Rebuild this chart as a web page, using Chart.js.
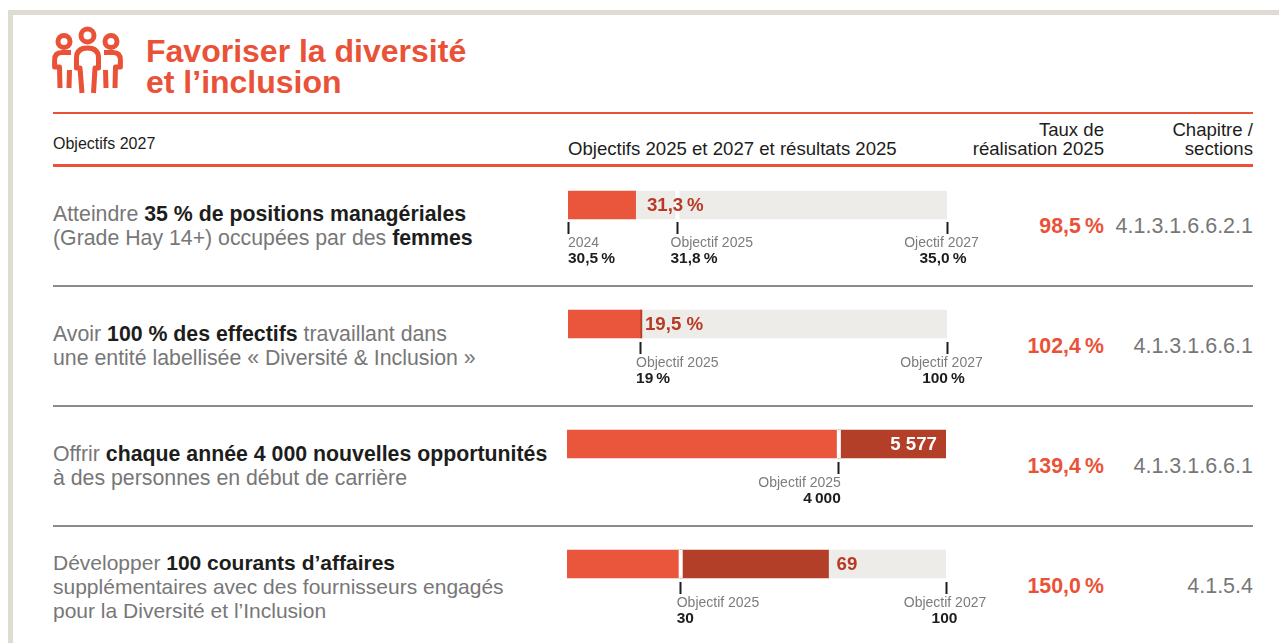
<!DOCTYPE html>
<html lang="fr">
<head>
<meta charset="utf-8">
<title>Favoriser la diversité et l'inclusion</title>
<script src="https://cdn.jsdelivr.net/npm/chart.js@4"></script>
<style>
  html, body { margin: 0; padding: 0; background: #fff; overflow: hidden; }
  body { width: 1279px; height: 643px; position: relative; font-family: "Liberation Sans", Arial, sans-serif; }
  .abs { position: absolute; white-space: nowrap; }
  .frame-top { left: 8px; top: 10px; width: 1271px; height: 5px; background: #dedbd3; }
  .frame-left { left: 8px; top: 10px; width: 5px; height: 633px; background: #dedbd3; }
  .rule { left: 53px; width: 1200px; }
  .rule.red { background: #ea5238; }
  .rule.grey { height: 2px; background: #8c8c8c; }
  .title { left: 146px; top: 36px; font-size: 32px; line-height: 31px; font-weight: bold; color: #ea5238; }
  .head { color: #1d1d1b; font-size: 18.6px; line-height: 19px; }
  .right { text-align: right; }
  .desc { left: 53px; font-size: 21.3px; line-height: 24px; color: #777; }
  .desc b { color: #1d1d1b; }
  .rate { font-size: 21.3px; font-weight: bold; color: #ea5238; text-align: right; right: 175px; line-height: 24px; }
  .chap { font-size: 21.5px; color: #777; text-align: right; right: 26px; line-height: 24px; }
  canvas { position: absolute; left: 548px; }
</style>
</head>
<body>
<div class="abs frame-top"></div>
<div class="abs frame-left"></div>

<svg class="abs" style="left:45px;top:20px" width="85" height="80" viewBox="45 20 85 80" fill="none" stroke="#ea5238" stroke-width="5" stroke-linejoin="round">
  <circle cx="87.5" cy="35.5" r="6.5"/>
  <path d="M82 93 L80 68 H76.5 V58 Q76.5 48 87.5 48 Q98.5 48 98.5 58 V68 H95 L93.5 93"/>
  <circle cx="64" cy="41.5" r="6"/>
  <path d="M71 52.5 H62 Q54.6 52.5 54.6 60 V67 H59.5 L60 88"/>
  <path d="M69.5 70 L69 88"/>
  <circle cx="111" cy="41.5" r="6"/>
  <path d="M104 52.5 H113 Q120.4 52.5 120.4 60 V67 H115.5 L115 88"/>
  <path d="M105.5 70 L106 88"/>
</svg>
<div class="abs title">Favoriser la diversité<br>et l’inclusion</div>

<div class="abs rule red" style="top:112px;height:2px"></div>
<div class="abs rule red" style="top:164px;height:3px"></div>
<div class="abs rule grey" style="top:285px"></div>
<div class="abs rule grey" style="top:405px"></div>
<div class="abs rule grey" style="top:525px"></div>

<div class="abs head" style="left:53px;top:134px;font-size:16px">Objectifs 2027</div>
<div class="abs head" style="left:568px;top:139px">Objectifs 2025 et 2027 et résultats 2025</div>
<div class="abs head right" style="right:175px;top:120px">Taux de<br>réalisation 2025</div>
<div class="abs head right" style="right:26px;top:120px">Chapitre /<br>sections</div>

<div class="abs desc" style="top:202px">Atteindre <b>35 % de positions managériales</b><br>(Grade Hay 14+) occupées par des <b>femmes</b></div>
<div class="abs desc" style="top:322px">Avoir <b>100 % des effectifs</b> travaillant dans<br>une entité labellisée « Diversité &amp; Inclusion »</div>
<div class="abs desc" style="top:442px">Offrir <b>chaque année 4 000 nouvelles opportunités</b><br>à des personnes en début de carrière</div>
<div class="abs desc" style="top:551px;font-size:21px">Développer <b>100 courants d’affaires</b><br>supplémentaires avec des fournisseurs engagés<br>pour la Diversité et l’Inclusion</div>

<div id="rates"></div>
<canvas id="row-0" width="450" height="95"></canvas>
<canvas id="row-1" width="450" height="95"></canvas>
<canvas id="row-2" width="450" height="95"></canvas>
<canvas id="row-3" width="450" height="95"></canvas>

<script>
// Chart data, one entry per row
const categories = ['Positions managériales', 'Entités labellisées', 'Opportunités', 'Courants d’affaires'];
const axisMin = [30.5, 0, 0, 0];
const axisMax = [35, 100, 5577, 100];
const baseValues = [31.3, 19, 4000, 30];     // light orange part of the bar
const excessValues = [0, 0.5, 1577, 39];     // dark part, above the 2025 objective
const trackValues = [3.7, 80.5, 0, 31];      // what is left up to the end of the axis
const resultLabels = ['31,3\u2009%', '19,5 %', '5 577', '69'];
const objective2025 = [31.8, null, 4000, 30]; // a white gap is cut here, none on the second row

const tickValues = [[30.5, 31.8, 35], [19, 100], [4000], [30, 100]];
const tickNames = [['2024', 'Objectif 2025', 'Ojectif 2027'], ['Objectif 2025', 'Objectif 2027'], ['Objectif 2025'], ['Objectif 2025', 'Objectif 2027']];
const tickTexts = [['30,5\u2009%', '31,8\u2009%', '35,0\u2009%'], ['19\u2009%', '100\u2009%'], ['4\u2009000'], ['30', '100']];

const rates = ['98,5\u2009%', '102,4\u2009%', '139,4\u2009%', '150,0\u2009%'];
const chapters = ['4.1.3.1.6.6.2.1', '4.1.3.1.6.6.1', '4.1.3.1.6.6.1', '4.1.5.4'];

// Layout, kept apart from the data
const barTops = [191, 310, 430, 550];
const barGaps = [3, 4, 4, 4];
const chartLeft = [20, 20, 19, 19];
const chartRight = [51, 51, 52, 52];
const resultLabelDx = [11.5, 3, -9, 8];
const resultLabelAlign = ['left', 'left', 'right', 'left'];
const resultLabelColor = ['#b83a25', '#b83a25', '#ffffff', '#b83a25'];
// [dx from tick, align] for the grey name and the bold value under each tick
const tickNameLayout = [[[0, 'left'], [-7, 'left'], [-5.5, 'center']], [[-4, 'left'], [-5.5, 'center']], [[2, 'right']], [[-4, 'left'], [-1, 'center']]];
const tickTextLayout = [[[0, 'left'], [-7, 'left'], [-4, 'center']], [[-4, 'left'], [-3.5, 'center']], [[2, 'right']], [[-4, 'left'], [-1.5, 'center']]];

// Percent and chapter columns
const ratesBox = document.getElementById('rates');
barTops.forEach((top, i) => {
  const y = top + barGaps[i] + 20;
  ratesBox.insertAdjacentHTML('beforeend',
    `<div class="abs rate" style="top:${y}px">${rates[i]}</div>` +
    `<div class="abs chap" style="top:${y}px">${chapters[i]}</div>`);
});

// White gap at the 2025 objective, value on the bar, labels under the ticks
const rowDecorations = {
  id: 'rowDecorations',
  afterDatasetsDraw(chart) {
    const i = chart.options.rowIndex;
    const ctx = chart.ctx;
    const x = chart.scales.x;
    const gap = barGaps[i];
    const top = chart.chartArea.top + gap;

    ctx.save();
    if (objective2025[i] !== null) {
      ctx.fillStyle = '#ffffff';
      ctx.fillRect(x.getPixelForValue(objective2025[i]) - 2, top, 4, 28);
    }

    const resultValue = baseValues[i] + excessValues[i];
    ctx.font = 'bold 18.7px "Liberation Sans"';
    ctx.textBaseline = 'middle';
    ctx.textAlign = resultLabelAlign[i];
    ctx.fillStyle = resultLabelColor[i];
    ctx.fillText(resultLabels[i], x.getPixelForValue(resultValue) + resultLabelDx[i], top + 15);

    tickValues[i].forEach((value, t) => {
      const px = x.getPixelForValue(value);
      ctx.font = '14px "Liberation Sans"';
      ctx.fillStyle = '#7c7c7c';
      ctx.textAlign = tickNameLayout[i][t][1];
      ctx.fillText(tickNames[i][t], px + tickNameLayout[i][t][0], top + gap + 49.5);
      ctx.font = 'bold 15.5px "Liberation Sans"';
      ctx.fillStyle = '#1d1d1b';
      ctx.textAlign = tickTextLayout[i][t][1];
      ctx.fillText(tickTexts[i][t], px + tickTextLayout[i][t][0], top + gap + 65);
    });
    ctx.restore();
  },
};

// One small horizontal stacked bar per row, each with its own x scale
categories.forEach((category, i) => {
  const canvas = document.getElementById('row-' + i);
  canvas.style.top = barTops[i] - barGaps[i] + 'px';

  new Chart(canvas.getContext('2d'), {
    type: 'bar',
    data: {
      labels: [category],
      datasets: [
        { data: [baseValues[i]], backgroundColor: '#ea563c' },
        { data: [excessValues[i]], backgroundColor: '#b33f29' },
        { data: [trackValues[i]], backgroundColor: '#edece8' },
      ],
    },
    options: {
      rowIndex: i,
      indexAxis: 'y',
      responsive: false,
      animation: false,
      layout: { padding: { left: chartLeft[i], right: chartRight[i], top: 0, bottom: 95 - 12 - 28 - 2 * barGaps[i] } },
      datasets: { bar: { barThickness: 28 } },
      plugins: { legend: { display: false }, tooltip: { enabled: false } },
      scales: {
        y: { display: false, stacked: true },
        x: {
          stacked: true,
          min: axisMin[i],
          max: axisMax[i],
          afterBuildTicks(axis) {
            axis.ticks = tickValues[i].map((value) => ({ value }));
          },
          border: { display: false },
          ticks: { display: false },
          grid: { drawOnChartArea: false, tickLength: 12, tickWidth: 2, tickColor: '#1d1d1b' },
        },
      },
    },
    plugins: [rowDecorations],
  });
});
</script>
</body>
</html>
